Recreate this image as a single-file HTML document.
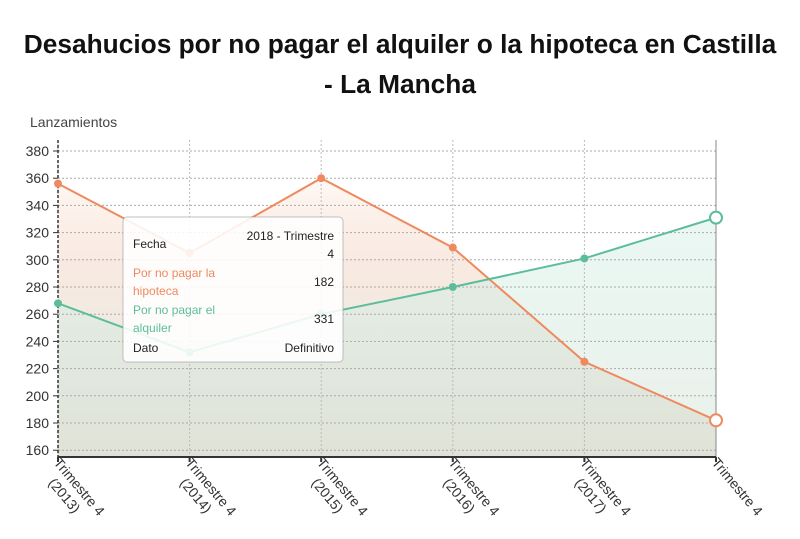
<!DOCTYPE html>
<html><head><meta charset="utf-8"><style>
body{margin:0;background:#fff;font-family:"Liberation Sans","DejaVu Sans",sans-serif;}
#t{position:absolute;left:0;top:24px;width:800px;text-align:center;font-size:26.3px;font-weight:bold;color:#111;line-height:40px;white-space:nowrap;font-family:"Liberation Sans",sans-serif}
</style></head><body>
<div id="t">Desahucios por no pagar el alquiler o la hipoteca en Castilla<br>- La Mancha</div>
<svg id="c" width="800" height="539" style="position:absolute;left:0;top:0">
<defs>
<linearGradient id="go" x1="0" y1="0" x2="0" y2="1"><stop offset="0" stop-color="#f7b08c" stop-opacity="0.08"/><stop offset="0.5" stop-color="#e8dccf" stop-opacity="0.6"/><stop offset="1" stop-color="#dcd7c8" stop-opacity="0.85"/></linearGradient>
<linearGradient id="gt" x1="0" y1="0" x2="0" y2="1"><stop offset="0" stop-color="#d4f0e6" stop-opacity="0.5"/><stop offset="1" stop-color="#dde6dc" stop-opacity="0.6"/></linearGradient>
</defs>
</svg>
<script>
const categories=["Trimestre 4 (2013)","Trimestre 4 (2014)","Trimestre 4 (2015)","Trimestre 4 (2016)","Trimestre 4 (2017)","Trimestre 4"];
const hipoteca=[356,305,360,309,225,182];
const alquiler=[268,232,260,280,301,331];
const yTicks=[160,180,200,220,240,260,280,300,320,340,360,380];
const NS="http://www.w3.org/2000/svg";
const svg=document.getElementById('c');
const x0=58,x1=716,yBase=457;
const X=i=>x0+i*(x1-x0)/(categories.length-1);
const Y=v=>151+(380-v)*1.36;
function mk(t,a,p){const e=document.createElementNS(NS,t);for(const k in a)e.setAttribute(k,a[k]);(p||svg).appendChild(e);return e;}
let e=mk('text',{x:30,y:127,'font-size':14,fill:'#444'});e.textContent='Lanzamientos';


function area(data,fill,name){let d='M'+X(0)+','+yBase;data.forEach((v,i)=>d+=' L'+X(i)+','+Y(v));d+=' L'+X(data.length-1)+','+yBase+'Z';
const p=mk('path',{d:d,fill:fill});

}
area(hipoteca,'url(#go)','area-hipoteca');
area(alquiler,'url(#gt)','area-alquiler');
yTicks.forEach(v=>{const l=mk('line',{x1:x0,x2:x1,y1:Y(v),y2:Y(v),stroke:'#aaa','stroke-dasharray':'2,2','stroke-width':1});


mk('line',{x1:x0-5,x2:x0,y1:Y(v),y2:Y(v),stroke:'#333'});
const t=mk('text',{x:x0-9,y:Y(v)+5,'font-size':14,fill:'#333','text-anchor':'end'});t.textContent=v;

});
categories.forEach((c,i)=>{const l=mk('line',{x1:X(i),x2:X(i),y1:140,y2:yBase,stroke:'#bbb','stroke-dasharray':'2,2'});


mk('line',{x1:X(i),x2:X(i),y1:yBase,y2:yBase+5,stroke:'#333','stroke-width':2});
const parts=c.split(' (');
const t=mk('text',{transform:`translate(${X(i)-5},${yBase+6}) rotate(50)`,'font-size':14,fill:'#333'});
const s1=mk('tspan',{x:0,y:0},t);s1.textContent=parts[0];
if(parts[1]){const s2=mk('tspan',{x:12,y:17},t);s2.textContent='('+parts[1];}

});
mk('line',{x1:x0,x2:x0,y1:140,y2:yBase,stroke:'#333','stroke-dasharray':'3,2','stroke-width':1.5});
mk('line',{x1:x1,x2:x1,y1:140,y2:yBase,stroke:'#888'});
mk('line',{x1:x0,x2:x1,y1:yBase,y2:yBase,stroke:'#333','stroke-width':2});
function series(data,col,name){let d='';data.forEach((v,i)=>d+=(i?' L':'M')+X(i)+','+Y(v));
const p=mk('path',{d:d,fill:'none',stroke:col,'stroke-width':2});


data.forEach((v,i)=>{const last=i==data.length-1;
const c=mk('circle',{cx:X(i),cy:Y(v),r:last?6:4,fill:last?'#fff':col,stroke:last?col:'none','stroke-width':2});

});}
series(hipoteca,'#ee8a5e','hipoteca');
series(alquiler,'#5dbd9a','alquiler');
const g=mk('g',{});


mk('rect',{x:123,y:217,width:220,height:145,rx:4,fill:'#fff','fill-opacity':0.88,stroke:'#999','stroke-opacity':0.6},g);
const rows=[["Fecha","#222",["2018 - Trimestre","4"],[240,258]],["Por no pagar la|hipoteca","#ee8a5e",["182"],[286]],["Por no pagar el|alquiler","#5dbd9a",["331"],[323]],["Dato","#222",["Definitivo"],[352]]];
const ly=[[248],[277,295],[314,332],[352]];
rows.forEach((r,k)=>{r[0].split('|').forEach((s,j)=>{const t=mk('text',{x:133,y:ly[k][j],'font-size':12,fill:r[1]},g);t.textContent=s;});
r[2].forEach((s,j)=>{const t=mk('text',{x:334,y:r[3][j],'font-size':12,fill:'#222','text-anchor':'end'},g);t.textContent=s;});});
</script>
</body></html>
